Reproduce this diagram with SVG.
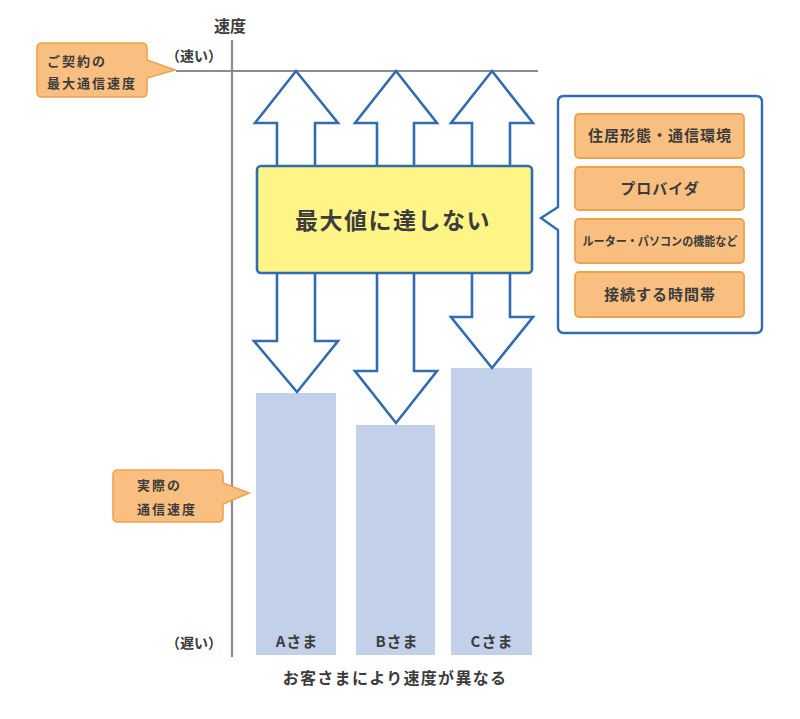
<svg xmlns="http://www.w3.org/2000/svg" width="800" height="719" viewBox="0 0 800 719">
<style>
text{font-family:"Noto Sans CJK JP","Noto Sans",sans-serif;font-weight:700;fill:#3c3c3c}
.axis{stroke:#8c8c8c;stroke-width:2.2;fill:none}
.arrow{fill:#fff;stroke:#2f6cb2;stroke-width:2.6;stroke-linejoin:miter}
.callout{fill:#f9bf80;stroke:#f0a24a;stroke-width:1.6}
.bar{fill:#c3d0ea}
.item{fill:#f9bf80;stroke:#f0a24a;stroke-width:1.8}
.small{font-size:13px;letter-spacing:2px}
.it{font-size:15px;text-anchor:middle;letter-spacing:1px}
.bl{font-size:15px;text-anchor:middle;letter-spacing:1px}
</style>
<rect width="800" height="719" fill="#fff"/>
<g id="axes">
<line class="axis" x1="232" y1="40" x2="232" y2="657"/>
<line class="axis" x1="176" y1="71" x2="538" y2="71"/>
<text x="214" y="32" font-size="16">速度</text>
<text x="166" y="61" font-size="14">（速い）</text>
<text x="166" y="648" font-size="14">（遅い）</text>
</g>
<g id="bars">
<g id="barA"><rect class="bar" x="256" y="393" width="80" height="262"/><text class="bl" x="297" y="647">Aさま</text></g>
<g id="barB"><rect class="bar" x="356" y="425" width="79" height="230"/><text class="bl" x="397" y="647">Bさま</text></g>
<g id="barC"><rect class="bar" x="451" y="368" width="81" height="287"/><text class="bl" x="492" y="647">Cさま</text></g>
</g>
<g id="connectors">
<polygon class="arrow" points="296,71 338,123 315,123 315,168 277,168 277,123 255,123"/>
<polygon class="arrow" points="396,71 437,123 414,123 414,168 377,168 377,123 355,123"/>
<polygon class="arrow" points="492,71 533,123 510,123 510,168 472,168 472,123 451,123"/>
<polygon class="arrow" points="277,271 277,341 254,341 297,392 338,341 315,341 315,271"/>
<polygon class="arrow" points="377,271 377,371 355,371 396,423 437,371 414,371 414,271"/>
<polygon class="arrow" points="472,271 472,317 451,317 492,368 533,317 510,317 510,271"/>
</g>
<g id="maxbox">
<rect x="257" y="166" width="275" height="107" rx="4" fill="#fff587" stroke="#2f6cb2" stroke-width="2.6"/>
<text x="393" y="229" font-size="23" text-anchor="middle" letter-spacing="1.5">最大値に達しない</text>
</g>
<g id="callout-contract">
<path class="callout" d="M42,43 H142 Q147,43 147,48 V60 L175,70 L147,78 V92 Q147,97 142,97 H42 Q37,97 37,92 V48 Q37,43 42,43 Z"/>
<text class="small" x="47" y="66">ご契約の</text>
<text class="small" x="47" y="88">最大通信速度</text>
</g>
<g id="callout-actual">
<path class="callout" d="M118,470 H218 Q223,470 223,475 V483 L249,493 L223,504 V517 Q223,522 218,522 H118 Q113,522 113,517 V475 Q113,470 118,470 Z"/>
<text class="small" x="137" y="490">実際の</text>
<text class="small" x="137" y="514">通信速度</text>
</g>
<g id="factors">
<path d="M564,96 H756 Q762,96 762,102 V327 Q762,333 756,333 H564 Q558,333 558,327 V230 L541,218 L558,207 V102 Q558,96 564,96 Z" fill="#fff" stroke="#2f6cb2" stroke-width="2.4"/>
<g id="f1"><rect class="item" x="575" y="114" width="169" height="44" rx="4"/><text class="it" x="660" y="141">住居形態・通信環境</text></g>
<g id="f2"><rect class="item" x="575" y="167" width="169" height="43" rx="4"/><text class="it" x="660" y="194">プロバイダ</text></g>
<g id="f3"><rect class="item" x="575" y="219" width="169" height="44" rx="4"/><text x="660" y="246" font-size="12" text-anchor="middle" textLength="155" lengthAdjust="spacingAndGlyphs">ルーター・パソコンの機能など</text></g>
<g id="f4"><rect class="item" x="575" y="272" width="169" height="45" rx="4"/><text class="it" x="660" y="300">接続する時間帯</text></g>
</g>
<text x="395" y="684" font-size="16" text-anchor="middle" letter-spacing="1.3">お客さまにより速度が異なる</text>
</svg>
